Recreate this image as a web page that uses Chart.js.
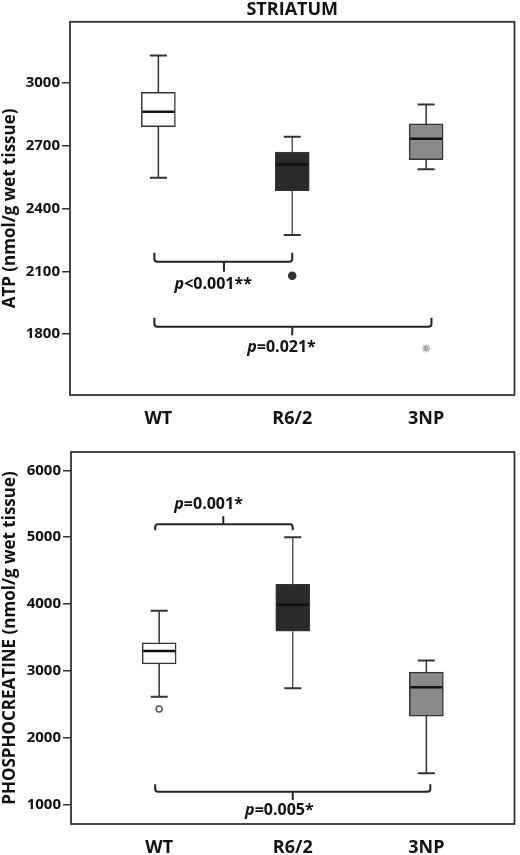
<!DOCTYPE html>
<html>
<head>
<meta charset="utf-8">
<script src="https://cdn.jsdelivr.net/npm/chart.js@4.4.1/dist/chart.umd.min.js"></script>
<style>
  body { margin: 0; background: #fff; }
  #top-wrap { position: absolute; left: 0; top: 0; width: 520px; height: 430px; }
  #bottom-wrap { position: absolute; left: 0; top: 430px; width: 520px; height: 425px; }
</style>
</head>
<body>
<div id="top-wrap"><canvas id="atp-chart"></canvas></div>
<div id="bottom-wrap"><canvas id="pcr-chart"></canvas></div>
<script>
const groups = ['WT', 'R6/2', '3NP'];

// ATP, striatum (nmol/g wet tissue)
const atpLow = [2546, 2273, 2587];
const atpQ1 = [2790, 2484, 2632];
const atpMedian = [2861, 2609, 2732];
const atpQ3 = [2954, 2669, 2803];
const atpHigh = [3129, 2742, 2895];
const atpOutlierGroup = [1, 2];
const atpOutlierValue = [2079, 1732];
const atpTicks = [1800, 2100, 2400, 2700, 3000];

// phosphocreatine, striatum (nmol/g wet tissue)
const pcrLow = [2617, 2742, 1473];
const pcrQ1 = [3109, 3597, 2328];
const pcrMedian = [3299, 3990, 2757];
const pcrQ3 = [3423, 4298, 2985];
const pcrHigh = [3900, 5000, 3160];
const pcrOutlierGroup = [0];
const pcrOutlierValue = [2433];
const pcrTicks = [1000, 2000, 3000, 4000, 5000, 6000];

// significance brackets (group positions and value positions)
const atpBrackets = [
    { from: -0.03, to: 1, mid: 0.49, ends: 2189, line: 2146, tip: 2098, text: 'p<0.001**', textX: 0.41, textY: 2037 },
    { from: -0.03, to: 2.04, mid: 1.0, ends: 1878, line: 1835, tip: 1795, text: 'p=0.021*', textX: 0.92, textY: 1735 }
];
const pcrBrackets = [
    { from: -0.03, to: 1, mid: 0.48, ends: 5105, line: 5194, tip: 5313, text: 'p=0.001*', textX: 0.37, textY: 5497 },
    { from: -0.03, to: 2.03, mid: 1.0, ends: 1309, line: 1199, tip: 1075, text: 'p=0.005*', textX: 0.90, textY: 925 }
];

const FONT = '"Open Sans", "DejaVu Sans", sans-serif';
const INK = '#333';
const boxFill = ['#ffffff', '#2a2a2a', '#8a8a8a'];
const whiskerColor = ['#333', '#5a5a5a', '#333'];

const boxParts = {
    id: 'boxParts',
    afterDatasetsDraw(chart, args, opts) {
        const ctx = chart.ctx;
        const area = chart.chartArea;
        const x = chart.scales.x, y = chart.scales.y;
        ctx.save();

        // whiskers, caps, medians
        opts.low.forEach(function(lo, i) {
            const cx = x.getPixelForValue(i);
            const yLo = y.getPixelForValue(lo);
            const yQ1 = y.getPixelForValue(opts.q1[i]);
            const yQ3 = y.getPixelForValue(opts.q3[i]);
            const yHi = y.getPixelForValue(opts.high[i]);
            const yMed = y.getPixelForValue(opts.median[i]);
            ctx.strokeStyle = whiskerColor[i];
            ctx.lineWidth = 1.5;
            ctx.beginPath();
            ctx.moveTo(cx, yQ3); ctx.lineTo(cx, yHi);
            ctx.moveTo(cx, yQ1); ctx.lineTo(cx, yLo);
            ctx.stroke();
            ctx.strokeStyle = '#333';
            ctx.lineWidth = 2;
            ctx.beginPath();
            ctx.moveTo(cx - 8.5, yHi); ctx.lineTo(cx + 8.5, yHi);
            ctx.moveTo(cx - 8.5, yLo); ctx.lineTo(cx + 8.5, yLo);
            ctx.stroke();
            ctx.strokeStyle = '#111';
            ctx.lineWidth = 2.5;
            ctx.beginPath();
            ctx.moveTo(cx - 16, yMed); ctx.lineTo(cx + 16, yMed);
            ctx.stroke();
        });

        // brackets with p values
        ctx.strokeStyle = '#222';
        ctx.fillStyle = '#111';
        ctx.lineWidth = 2;
        opts.brackets.forEach(function(b) {
            const x0 = x.getPixelForValue(b.from), x1 = x.getPixelForValue(b.to);
            const xm = x.getPixelForValue(b.mid);
            const yl = y.getPixelForValue(b.line), ye = y.getPixelForValue(b.ends);
            const yt = y.getPixelForValue(b.tip);
            const dir = Math.sign(ye - yl);
            const r = 3;
            ctx.beginPath();
            ctx.moveTo(x0, ye);
            ctx.lineTo(x0, yl + dir * r);
            ctx.quadraticCurveTo(x0, yl, x0 + r, yl);
            ctx.lineTo(x1 - r, yl);
            ctx.quadraticCurveTo(x1, yl, x1, yl + dir * r);
            ctx.lineTo(x1, ye);
            ctx.moveTo(xm, yl); ctx.lineTo(xm, yt);
            ctx.stroke();

            const rest = b.text.slice(1);
            ctx.font = 'italic bold 16px ' + FONT;
            const w1 = ctx.measureText('p').width;
            ctx.font = 'bold 16px ' + FONT;
            const w2 = ctx.measureText(rest).width;
            let sx = x.getPixelForValue(b.textX) - (w1 + w2) / 2;
            const sy = y.getPixelForValue(b.textY);
            ctx.textAlign = 'left';
            ctx.textBaseline = 'middle';
            ctx.font = 'italic bold 16px ' + FONT;
            ctx.fillText('p', sx, sy);
            ctx.font = 'bold 16px ' + FONT;
            ctx.fillText(rest, sx + w1, sy);
        });

        // frame
        ctx.strokeStyle = INK;
        ctx.lineWidth = 1.8;
        ctx.strokeRect(area.left, area.top, area.right - area.left, area.bottom - area.top);
        ctx.restore();
    }
};

function makeBoxChart(canvasId, cfg) {
    const ctx = document.getElementById(canvasId).getContext('2d');
    return new Chart(ctx, {
        type: 'bar',
        data: {
            datasets: [{
                data: groups.map(function(g, i) { return { x: i, y: [cfg.q1[i], cfg.q3[i]] }; }),
                backgroundColor: boxFill,
                borderColor: INK,
                borderWidth: 1.5,
                borderSkipped: false,
                barThickness: 34
            }, {
                type: 'scatter',
                data: cfg.outGroup.map(function(g, i) { return { x: g, y: cfg.outValue[i] }; }),
                pointStyle: cfg.outStyle,
                pointRadius: cfg.outRadius,
                backgroundColor: cfg.outFill,
                borderColor: cfg.outLine,
                borderWidth: 1.5
            }]
        },
        options: {
            responsive: true,
            maintainAspectRatio: false,
            animation: false,
            layout: { padding: { top: cfg.padTop, right: 2, left: 0, bottom: 0 } },
            plugins: {
                legend: { display: false },
                tooltip: { enabled: false },
                title: cfg.title ? {
                    display: true,
                    text: cfg.title,
                    fullSize: false,
                    color: '#111',
                    font: { family: FONT, size: 18, weight: 'bold', lineHeight: 1.1 },
                    padding: { top: 0, bottom: 2 }
                } : { display: false },
                boxParts: {
                    low: cfg.low, q1: cfg.q1, median: cfg.median, q3: cfg.q3, high: cfg.high,
                    brackets: cfg.brackets
                }
            },
            scales: {
                x: {
                    type: 'linear',
                    min: -0.66,
                    max: 2.66,
                    offset: false,
                    grid: { display: false },
                    border: { display: false },
                    afterBuildTicks: function(scale) {
                        scale.ticks = groups.map(function(g, i) { return { value: i }; });
                    },
                    afterFit: function(scale) { scale.height = cfg.xHeight; },
                    ticks: {
                        padding: 5,
                        color: '#111',
                        font: { family: FONT, size: 18, weight: 'bold' },
                        callback: function(v) { return groups[v]; }
                    }
                },
                y: {
                    min: cfg.yMin,
                    max: cfg.yMax,
                    afterBuildTicks: function(scale) {
                        scale.ticks = cfg.ticks.map(function(v) { return { value: v }; });
                    },
                    afterFit: function(scale) { scale.width = cfg.yWidth; },
                    grid: { drawOnChartArea: false, drawTicks: true, tickLength: 8, color: INK, lineWidth: 1.5 },
                    border: { display: false },
                    title: {
                        display: true,
                        text: cfg.yTitle,
                        color: '#111',
                        padding: 0,
                        font: { family: FONT, size: 17, weight: 'bold' }
                    },
                    ticks: {
                        padding: 2,
                        color: '#111',
                        font: { family: FONT, size: 15, weight: 'bold' },
                        callback: function(v) { return String(v); }
                    }
                }
            }
        },
        plugins: [boxParts]
    });
}

makeBoxChart('atp-chart', {
    title: 'STRIATUM',
    yTitle: 'ATP (nmol/g wet tissue)',
    low: atpLow, q1: atpQ1, median: atpMedian, q3: atpQ3, high: atpHigh,
    outGroup: atpOutlierGroup, outValue: atpOutlierValue,
    outStyle: ['circle', 'star'], outRadius: [3.5, 4],
    outFill: ['#333', '#aaa'], outLine: ['#333', '#aaa'],
    ticks: atpTicks, yMin: 1510, yMax: 3290,
    brackets: atpBrackets,
    padTop: 0, xHeight: 35, yWidth: 70
});

makeBoxChart('pcr-chart', {
    title: null,
    yTitle: 'PHOSPHOCREATINE (nmol/g wet tissue)',
    low: pcrLow, q1: pcrQ1, median: pcrMedian, q3: pcrQ3, high: pcrHigh,
    outGroup: pcrOutlierGroup, outValue: pcrOutlierValue,
    outStyle: ['circle'], outRadius: [3],
    outFill: ['#fff'], outLine: ['#555'],
    ticks: pcrTicks, yMin: 716, yMax: 6273,
    brackets: pcrBrackets,
    padTop: 22, xHeight: 31, yWidth: 71
});
</script>
</body>
</html>
